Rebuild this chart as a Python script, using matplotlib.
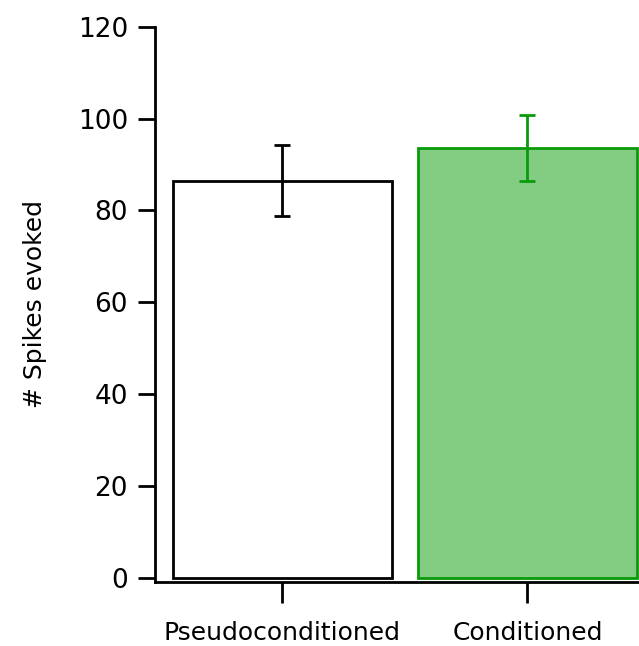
import matplotlib
matplotlib.use('Agg')
import matplotlib.pyplot as plt

groups = ['Pseudoconditioned', 'Conditioned']
means = [86.5, 93.6]
errs = [7.8, 7.2]
face_cols = ['white', '#82cd82']
edge_cols = ['black', '#0a9a0a']

plt.rcParams['font.family'] = 'DejaVu Sans'

fig = plt.figure(figsize=(6.39, 6.46), dpi=100)
ax = fig.add_axes([0.2418, 0.0991, 0.7582, 0.8596])

for i, (m, e) in enumerate(zip(means, errs)):
	ax.bar(i, m, width=0.895, color=face_cols[i], edgecolor=edge_cols[i], linewidth=2)
	ax.errorbar(i, m, yerr=e, color=edge_cols[i], capsize=6, elinewidth=2, capthick=2)

ax.set_xlim(-0.522, 1.455)
ax.set_ylim(-0.9, 120)
ax.set_yticks([0, 20, 40, 60, 80, 100, 120])
ax.set_xticks([0, 1])
ax.set_xticklabels(groups)
ax.spines['top'].set_visible(False)
ax.spines['right'].set_visible(False)
ax.spines['left'].set_bounds(-0.9, 120)
for s in ['left', 'bottom']:
	ax.spines[s].set_linewidth(2)
ax.tick_params(axis='y', length=12, width=2, pad=7, labelsize=19)
ax.tick_params(axis='x', length=15, width=2, pad=13, labelsize=18)
ax.set_ylabel('# Spikes evoked', fontsize=18, labelpad=22)

plt.savefig('out.png', dpi=100)
